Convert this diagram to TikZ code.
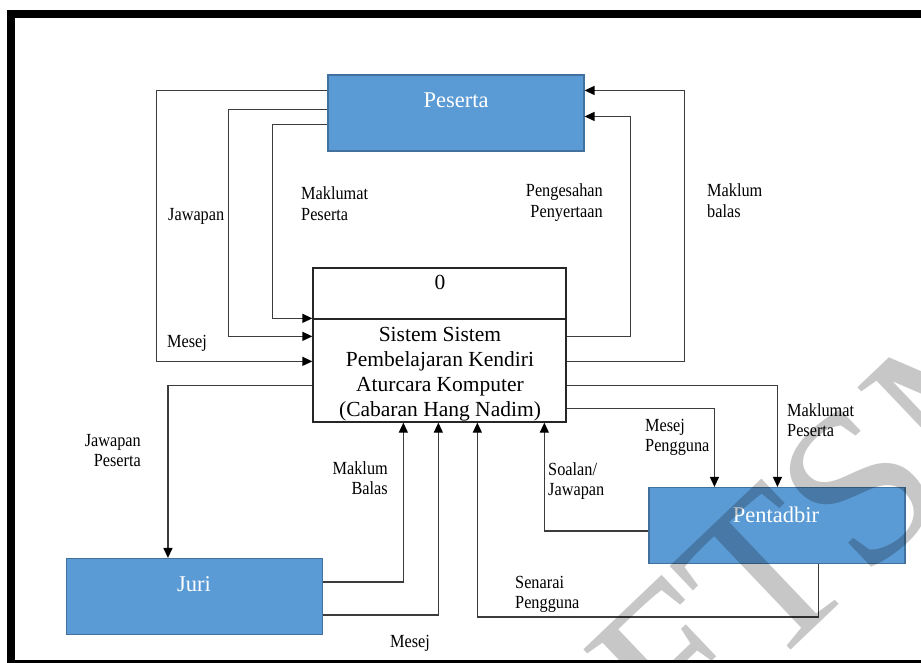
\documentclass[tikz,border=0pt]{standalone}
\usepackage{fontspec}
\setmainfont{Liberation Serif}
\usepackage{graphicx}
\usetikzlibrary{arrows.meta}

\definecolor{entfill}{HTML}{5B9BD5}
\definecolor{entedge}{HTML}{41719C}
\definecolor{wire}{HTML}{3C3C3C}

% flow labels: slightly condensed, one or two lines
\newcommand{\flowL}[1]{\scalebox{0.88}[1]{\begin{tabular}[t]{@{}l@{}}#1\end{tabular}}}
\newcommand{\flowR}[1]{\scalebox{0.88}[1]{\begin{tabular}[t]{@{}r@{}}#1\end{tabular}}}

\begin{document}
\begin{tikzpicture}[x=1pt,y=-1pt,
  entity/.style={rectangle, draw=entedge, fill=entfill, line width=1.1pt,
    minimum width=256pt, minimum height=76pt, inner sep=0pt},
  enttext/.style={anchor=base, text=white, inner sep=0pt,
    font=\fontsize{22.5}{25}\selectfont},
  process/.style={rectangle, draw=black!85, line width=1.3pt,
    minimum width=253pt, minimum height=154pt, inner sep=0pt},
  proctext/.style={anchor=base, inner sep=0pt,
    font=\fontsize{21.5}{25.3}\selectfont},
  flow/.style={draw=wire, line width=1.3pt,
    -{Triangle[length=10pt,width=9pt,color=black]}},
  flowlabel/.style={inner sep=0pt, font=\fontsize{18.5}{20.5}\selectfont},
  wmtext/.style={inner sep=0pt, text=black, text opacity=0.22,
    font=\fontsize{220}{220}\selectfont}]

\clip (0,0) rectangle (921,663);

% page frame
\draw[line width=8pt] (935,14) -- (11,14) -- (11,664) -- (935,664);

% external entities
\node[entity] (peserta) at (456,113) {};
\node[entity] (juri) at (194.5,596.5) {};
\node[entity] (pentadbir) at (777,525.5) {};
\node[enttext] (pesertaT) at (456,108) {Peserta};
\node[enttext] (juriT) at (194,591) {Juri};
\node[enttext] (pentadbirT) at (776,522) {Pentadbir};

% the process
\node[process] (proc) at (439.5,345) {};
\coordinate (divy) at (0,319);
\draw[draw=black!85, line width=1.3pt] (proc.west |- divy) -- (proc.east |- divy);
\node[proctext] (procId) at (440,289) {0};
\node[proctext] (procT) at (440,341)
  {\begin{tabular}[t]{@{}c@{}}Sistem Sistem\\Pembelajaran Kendiri\\Aturcara Komputer\\(Cabaran Hang Nadim)\end{tabular}};

% Peserta -> process
\draw[flow] ([yshift=-16pt]peserta.north west) -- ++(-171,0) |- ([yshift=-94pt]proc.north west);
\draw[flow] ([yshift=-35pt]peserta.north west) -- ++(-99,0) |- ([yshift=-69pt]proc.north west);
\draw[flow] ([yshift=-50pt]peserta.north west) -- ++(-55,0) |- ([yshift=-51pt]proc.north west);

% process -> Peserta
\draw[flow] ([yshift=-69pt]proc.north east) -- ++(64,0) |- ([yshift=-42pt]peserta.north east);
\draw[flow] ([yshift=-94pt]proc.north east) -- ++(118,0) |- ([yshift=-16pt]peserta.north east);

% process <-> Pentadbir
\draw[flow] ([yshift=-118pt]proc.north east) -| ([xshift=129pt]pentadbir.north west);
\draw[flow] ([yshift=-141pt]proc.north east) -| ([xshift=66pt]pentadbir.north west);
\draw[flow] ([yshift=-44pt]pentadbir.north west) -| ([xshift=232pt]proc.south west);
\draw[flow] ([xshift=170pt]pentadbir.south west) -- ++(0,53) -| ([xshift=165pt]proc.south west);

% process <-> Juri
\draw[flow] ([yshift=-118pt]proc.north west) -| ([xshift=102pt]juri.north west);
\draw[flow] ([yshift=-24pt]juri.north east) -| ([xshift=91pt]proc.south west);
\draw[flow] ([yshift=-57pt]juri.north east) -| ([xshift=126pt]proc.south west);

% flow labels
\node[flowlabel, anchor=base west] (lMesej) at (167,347) {\flowL{Mesej}};
\node[flowlabel, anchor=base west] (lJawapan) at (168,221) {\flowL{Jawapan}};
\node[flowlabel, anchor=base west] (lMaklumat) at (301,200) {\flowL{Maklumat\\Peserta}};
\node[flowlabel, anchor=base east] (lPengesahan) at (603,197) {\flowR{Pengesahan\\Penyertaan}};
\node[flowlabel, anchor=base west] (lMaklumBalas) at (707,197) {\flowL{Maklum\\balas}};
\node[flowlabel, anchor=base west] (lMaklumatP) at (787,416) {\flowL{Maklumat\\Peserta}};
\node[flowlabel, anchor=base west] (lMesejP) at (645,431) {\flowL{Mesej\\Pengguna}};
\node[flowlabel, anchor=base west] (lSoalan) at (548,475) {\flowL{Soalan/\\Jawapan}};
\node[flowlabel, anchor=base west] (lSenarai) at (515,588) {\flowL{Senarai\\Pengguna}};
\node[flowlabel, anchor=base east] (lJawapanP) at (141,446) {\flowR{Jawapan\\Peserta}};
\node[flowlabel, anchor=base east] (lMaklumB) at (388,474) {\flowR{Maklum\\Balas}};
\node[flowlabel, anchor=base west] (lMesejJ) at (390,647) {\flowL{Mesej}};

% faculty watermark
\node[wmtext, rotate=43.6] (wm) at (837,508) {FTSM};

\end{tikzpicture}
\end{document}
